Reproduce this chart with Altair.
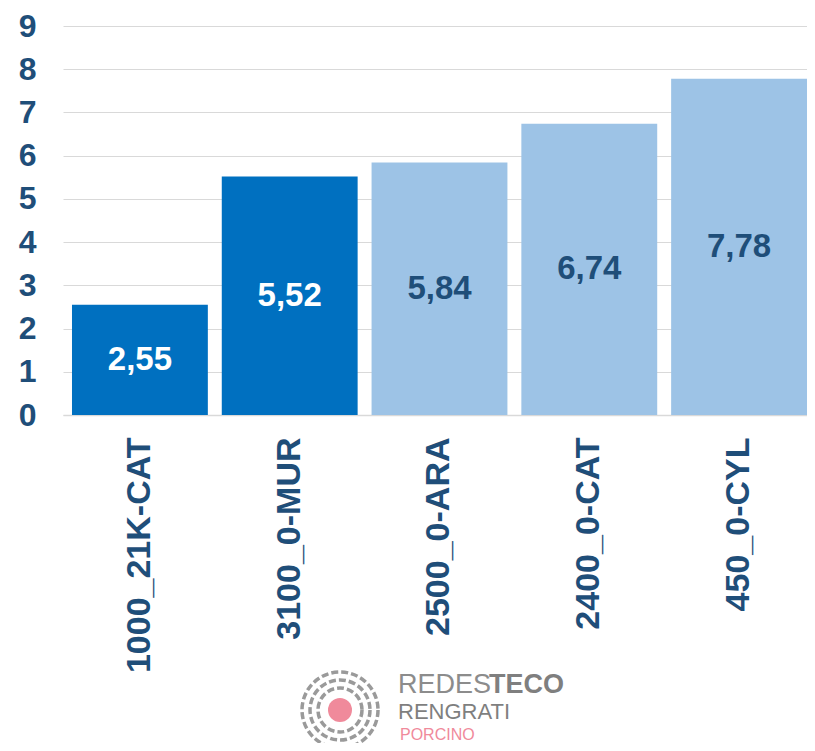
import altair as alt
import pandas as pd

categories = ["1000_21K-CAT", "3100_0-MUR", "2500_0-ARA", "2400_0-CAT", "450_0-CYL"]
values = [2.55, 5.52, 5.84, 6.74, 7.78]
groups = ["dark", "dark", "light", "light", "light"]

df = pd.DataFrame({"cat": categories, "val": values, "grp": groups})
df["lbl"] = [f"{v:.2f}".replace(".", ",") for v in values]
df["half"] = df["val"] / 2

FONT = "Liberation Sans"
NAVY = "#1F4E79"

xscale = alt.Scale(paddingInner=0.093, paddingOuter=0.03, align=1)

x = alt.X("cat:N", sort=categories, title=None, scale=xscale,
          axis=alt.Axis(labelAngle=-90, labelFont=FONT, labelFontSize=34,
                        labelFontWeight="bold", labelColor=NAVY, ticks=False,
                        labelPadding=22, domainColor="#D9D9D9", domainWidth=1.5,
                        labelLimit=400))

bars = alt.Chart(df).mark_bar().encode(
    x=x,
    y=alt.Y("val:Q", title=None,
            scale=alt.Scale(domain=[0, 9], nice=False),
            axis=alt.Axis(values=list(range(10)), labelFont=FONT, labelFontSize=32,
                          labelFontWeight="bold", labelColor=NAVY, ticks=False,
                          domain=False, labelPadding=27, gridColor="#D9D9D9",
                          gridWidth=1.2)),
    color=alt.Color("grp:N", legend=None,
                    scale=alt.Scale(domain=["dark", "light"], range=["#0070C0", "#9DC3E6"])),
)

texts = alt.Chart(df).mark_text(font=FONT, fontSize=33, fontWeight="bold").encode(
    x=alt.X("cat:N", sort=categories, scale=xscale),
    y=alt.Y("half:Q"),
    text="lbl:N",
    color=alt.Color("grp:N", legend=None,
                    scale=alt.Scale(domain=["dark", "light"], range=["#FFFFFF", NAVY])),
)

# Logo (decorative)
logo_rings = pd.DataFrame({"r": [1936, 3600, 5776]})
rings = alt.Chart(logo_rings).mark_point(
    shape="circle", filled=False, stroke="#9A9A9A", strokeWidth=3.5,
    strokeDash=[7, 3], opacity=1
).encode(x=alt.value(277), y=alt.value(684), size=alt.Size("r:Q", scale=None, legend=None))

dot = alt.Chart(pd.DataFrame({"a": [1]})).mark_point(
    shape="circle", filled=True, color="#F08A9B", opacity=1, size=576
).encode(x=alt.value(277), y=alt.value(684))

logo_text = pd.DataFrame({
    "t": ["REDES", "TECO", "RENGRATI", "PORCINO"],
    "x": [335, 426, 335, 337],
    "y": [659, 659, 686, 709],
    "s": [27, 27, 22, 16],
    "w": ["normal", "bold", "normal", "normal"],
    "c": ["#8C8C8C", "#7F7F7F", "#7F7F7F", "#F08A9B"],
})
lt = alt.layer(*[
    alt.Chart(pd.DataFrame({"t": [r.t]})).mark_text(
        font=FONT, fontSize=int(r.s), fontWeight=r.w, color=r.c, align="left",
        baseline="middle"
    ).encode(text="t:N", x=alt.value(int(r.x)), y=alt.value(int(r.y)))
    for r in logo_text.itertuples()
])

chart = alt.layer(bars, texts, rings, dot, lt).resolve_scale(color="independent").properties(
    width=744, height=389,
    autosize=alt.AutoSizeParams(type="none"),
    padding={"left": 55, "top": 18, "right": 0, "bottom": 328},
).configure_view(stroke=None)

chart.save("out.html", embed_options={"renderer": "svg", "actions": False})
